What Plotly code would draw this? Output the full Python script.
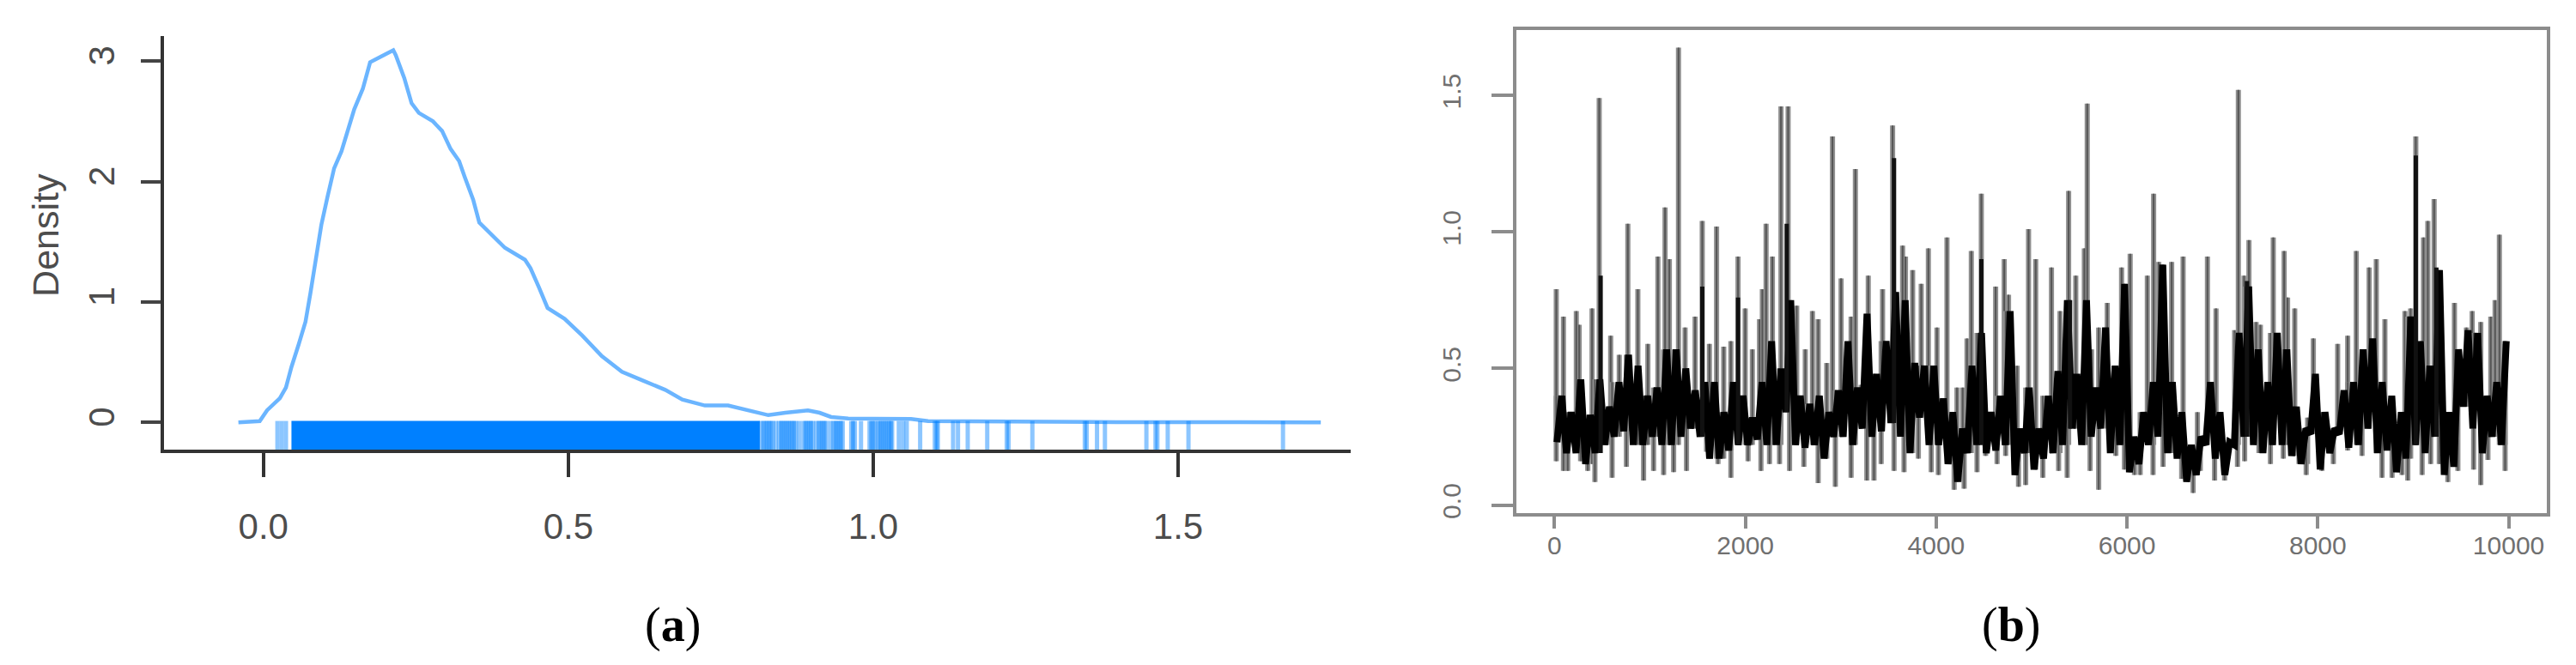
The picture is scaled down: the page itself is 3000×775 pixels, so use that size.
import plotly.graph_objects as go

# ---------------- panel (a): density + rug ----------------
dens_x = [-0.041, -0.006, 0.006, 0.027, 0.037, 0.046, 0.058, 0.069, 0.077, 0.086, 0.095, 0.105,
          0.116, 0.128, 0.138, 0.149, 0.163, 0.175, 0.194, 0.213, 0.217, 0.231, 0.243, 0.255,
          0.278, 0.293, 0.307, 0.321, 0.330, 0.344, 0.354, 0.372, 0.396, 0.429, 0.438, 0.452,
          0.466, 0.494, 0.523, 0.555, 0.588, 0.621, 0.659, 0.687, 0.724, 0.762, 0.800, 0.828,
          0.856, 0.893, 0.912, 0.931, 0.959, 1.062, 1.09, 1.2, 1.4, 1.6, 1.734]
dens_y = [0.0, 0.01, 0.10, 0.20, 0.29, 0.46, 0.65, 0.835, 1.07, 1.35, 1.64, 1.87,
          2.11, 2.25, 2.42, 2.60, 2.77, 2.99, 3.04, 3.09, 3.05, 2.86, 2.65, 2.57,
          2.50, 2.42, 2.27, 2.17, 2.04, 1.85, 1.66, 1.57, 1.45, 1.35, 1.28, 1.12,
          0.95, 0.86, 0.72, 0.55, 0.42, 0.35, 0.27, 0.19, 0.14, 0.14, 0.09, 0.06,
          0.08, 0.10, 0.08, 0.045, 0.033, 0.028, 0.01, 0.005, 0.002, 0.001, 0.0]

rug_dense_range = [0.046, 0.814]
rug_values = [0.023, 0.030, 0.037,
              0.816, 0.820, 0.823, 0.826, 0.829, 0.832, 0.835, 0.840,
              0.846, 0.849, 0.852, 0.855, 0.858, 0.861, 0.864, 0.867, 0.870, 0.873, 0.879,
              0.886, 0.889, 0.892, 0.895, 0.898, 0.901, 0.907,
              0.911, 0.914, 0.917, 0.920, 0.923, 0.930,
              0.935, 0.938, 0.941, 0.944, 0.947, 0.950,
              0.964, 0.967, 0.970, 0.980,
              0.994, 0.997, 1.000, 1.003, 1.008, 1.011, 1.014, 1.017,
              1.020, 1.023, 1.026, 1.029, 1.031,
              1.042, 1.049, 1.055, 1.077, 1.101, 1.104, 1.106, 1.131, 1.139, 1.155, 1.187,
              1.219, 1.222, 1.261, 1.347, 1.350, 1.367, 1.380, 1.448, 1.463, 1.466,
              1.483, 1.517, 1.672]

dens_xticks = [0.0, 0.5, 1.0, 1.5]
dens_xticklabels = ["0.0", "0.5", "1.0", "1.5"]
dens_yticks = [0, 1, 2, 3]
dens_yticklabels = ["0", "1", "2", "3"]

# ---------------- panel (b): trace plot ----------------
core_bin_start = list(range(0, 10000, 100))
core_low = [0.23, 0.19, 0.19, 0.15, 0.19, 0.22, 0.25, 0.27, 0.22, 0.22,
            0.25, 0.22, 0.22, 0.25, 0.28, 0.25, 0.17, 0.17, 0.20, 0.22,
            0.22, 0.24, 0.22, 0.22, 0.34, 0.22, 0.21, 0.22, 0.17, 0.25,
            0.25, 0.22, 0.28, 0.25, 0.27, 0.30, 0.25, 0.19, 0.32, 0.22,
            0.22, 0.15, 0.085, 0.19, 0.22, 0.19, 0.20, 0.22, 0.11, 0.19,
            0.13, 0.17, 0.19, 0.22, 0.28, 0.22, 0.25, 0.28, 0.19, 0.22,
            0.12, 0.15, 0.22, 0.25, 0.19, 0.17, 0.085, 0.11, 0.22, 0.17,
            0.11, 0.22, 0.25, 0.22, 0.19, 0.22, 0.22, 0.18, 0.15, 0.26,
            0.13, 0.19, 0.26, 0.21, 0.22, 0.28, 0.19, 0.20, 0.12, 0.17,
            0.22, 0.19, 0.25, 0.11, 0.14, 0.36, 0.28, 0.19, 0.25, 0.22]
core_high = [0.40, 0.34, 0.46, 0.33, 0.46, 0.36, 0.45, 0.55, 0.51, 0.40,
             0.43, 0.57, 0.57, 0.50, 0.42, 0.45, 0.45, 0.34, 0.45, 0.40,
             0.32, 0.45, 0.60, 0.50, 0.75, 0.40, 0.37, 0.40, 0.34, 0.42,
             0.60, 0.43, 0.70, 0.48, 0.60, 0.78, 0.75, 0.52, 0.51, 0.51,
             0.39, 0.34, 0.28, 0.51, 0.63, 0.34, 0.40, 0.71, 0.28, 0.43,
             0.28, 0.40, 0.49, 0.75, 0.48, 0.75, 0.43, 0.65, 0.51, 0.81,
             0.25, 0.34, 0.45, 0.88, 0.45, 0.34, 0.22, 0.25, 0.45, 0.34,
             0.23, 0.63, 0.80, 0.57, 0.45, 0.63, 0.57, 0.36, 0.28, 0.48,
             0.34, 0.28, 0.42, 0.45, 0.57, 0.61, 0.45, 0.40, 0.34, 0.69,
             0.60, 0.51, 0.86, 0.34, 0.57, 0.64, 0.63, 0.40, 0.45, 0.60]

spike_iter = [18, 93, 228, 258, 393, 468, 588, 678, 768, 873, 978, 1083, 1158, 1203, 1299,
              1368, 1473, 1548, 1623, 1698, 1773, 1848, 1923, 1998, 2073, 2148, 2178, 2217,
              2283, 2373, 2448, 2538, 2628, 2703, 2763, 2853, 2913, 3003, 3108, 3153, 3213,
              3288, 3438, 3543, 3648, 3678, 3753, 3843, 3918, 4008, 4113, 4218, 4278, 4323,
              4368, 4473, 4623, 4713, 4758, 4848, 4968, 5043, 5208, 5298, 5388, 5463, 5553,
              5583, 5628, 5793, 5943, 6033, 6213, 6279, 6333, 6468, 6588, 6738, 6843, 6933,
              7128, 7167, 7227, 7278, 7353, 7398, 7533, 7647, 7683, 7758, 7893, 7953, 8208,
              8313, 8403, 8538, 8613, 8703, 8913, 8973, 9027, 9108, 9153, 9219, 9288, 9432,
              9558, 9618, 9708, 9813, 9858, 9903, 9963]
spike_top = [0.79, 0.69, 0.71, 0.66, 0.72, 1.49, 0.62, 0.55, 1.03, 0.79, 0.59, 0.91, 1.09, 0.90, 1.675,
             0.65, 0.69, 1.04, 0.59, 1.02, 0.58, 0.60, 0.91, 0.72, 0.57, 0.68, 0.79, 1.03,
             0.91, 1.46, 1.46, 0.73, 0.57, 0.71, 0.68, 0.52, 1.35, 0.83, 0.69, 1.23, 0.44,
             0.84, 0.79, 1.39, 0.95, 0.91, 0.86, 0.81, 0.94, 0.65, 0.98, 0.43, 0.43, 0.61,
             0.93, 1.14, 0.80, 0.90, 0.77, 0.51, 1.01, 0.90, 0.87, 0.71, 1.15, 0.84, 0.94,
             1.47, 0.57, 0.74, 0.87, 0.92, 0.84, 1.14, 0.89, 0.89, 0.91, 0.34, 0.91, 0.72,
             0.64, 1.52, 0.84, 0.97, 0.67, 0.66, 0.98, 0.93, 0.76, 0.72, 0.32, 0.61, 0.59,
             0.62, 0.93, 0.87, 0.90, 0.68, 0.71, 0.72, 1.35, 0.98, 1.04, 1.12, 0.61, 0.74,
             0.65, 0.71, 0.67, 0.69, 0.75, 0.99, 0.59]

dip_iter = [18, 93, 138, 273, 348, 423, 603, 753, 933, 1038, 1143, 1248, 1383, 1593, 1713,
            1848, 2028, 2163, 2253, 2358, 2463, 2613, 2763, 2943, 3108, 3273, 3348, 3423,
            3558, 3663, 3813, 3948, 4023, 4188, 4293, 4428, 4518, 4638, 4728, 4863, 4938,
            5118, 5283, 5373, 5613, 5703, 5883, 5973, 6078, 6138, 6273, 6378, 6573, 6693,
            6768, 6918, 7023, 7158, 7233, 7383, 7503, 7638, 7803, 7878, 8043, 8163, 8313,
            8463, 8673, 8778, 8883, 8943, 9093, 9183, 9273, 9363, 9468, 9633, 9708, 9783, 9963]
dip_bottom = [0.16, 0.125, 0.125, 0.16, 0.125, 0.084, 0.10, 0.14, 0.09, 0.125, 0.11, 0.12, 0.125, 0.195, 0.15,
              0.10, 0.16, 0.125, 0.15, 0.15, 0.125, 0.14, 0.08, 0.067, 0.10, 0.09, 0.09, 0.15,
              0.125, 0.12, 0.17, 0.12, 0.11, 0.056, 0.06, 0.12, 0.18, 0.15, 0.18, 0.067, 0.073,
              0.10, 0.125, 0.10, 0.125, 0.056, 0.18, 0.13, 0.11, 0.11, 0.11, 0.14, 0.096, 0.044,
              0.125, 0.09, 0.09, 0.14, 0.16, 0.19, 0.15, 0.17, 0.15, 0.11, 0.125, 0.15, 0.20,
              0.18, 0.10, 0.10, 0.11, 0.09, 0.11, 0.15, 0.15, 0.084, 0.125, 0.13, 0.073, 0.165, 0.125]

black_iter = [483, 1548, 1923, 2433, 3558, 4473, 5403, 7257, 9027, 9243]
black_top = [0.84, 0.80, 0.76, 1.03, 1.27, 0.90, 0.75, 0.82, 1.28, 0.87]

trace_xticks = [0, 2000, 4000, 6000, 8000, 10000]
trace_xticklabels = ["0", "2000", "4000", "6000", "8000", "10000"]
trace_yticks = [0.0, 0.5, 1.0, 1.5]
trace_yticklabels = ["0.0", "0.5", "1.0", "1.5"]

panel_labels = ["(<b>a</b>)", "(<b>b</b>)"]

# ---------------- figure ----------------
W, H = 3000, 775
RUG_BOTTOM = -0.226
RUG_TOP = 0.012
BIN = 100

fig = go.Figure()

# rug: dense block + one semi-transparent line per sample (overlaps darken)
fig.add_shape(type="rect", xref="x", yref="y", x0=rug_dense_range[0], x1=rug_dense_range[1],
              y0=RUG_BOTTOM, y1=RUG_TOP, fillcolor="#0080FF", line_width=0, layer="above")
for v in rug_values:
    fig.add_shape(type="line", xref="x", yref="y", x0=v, x1=v, y0=RUG_BOTTOM, y1=RUG_TOP,
                  line=dict(color="rgba(0,128,255,0.45)", width=5), layer="above")

fig.add_trace(go.Scatter(x=dens_x, y=dens_y, mode="lines",
                         line=dict(color="rgba(0,128,255,0.58)", width=4.5),
                         xaxis="x", yaxis="y", showlegend=False))


def bin_of(it):
    return min(int(it // BIN), len(core_low) - 1)


sx, sy = [], []
for it, top in zip(spike_iter, spike_top):
    sx += [it, it, None]
    sy += [core_low[bin_of(it)], top, None]
dx, dy = [], []
for it, bot in zip(dip_iter, dip_bottom):
    dx += [it, it, None]
    dy += [core_high[bin_of(it)], bot, None]
for xs, ys in ((sx, sy), (dx, dy)):
    fig.add_trace(go.Scatter(x=xs, y=ys, mode="lines", line=dict(color="#8f8f8f", width=6),
                             xaxis="x2", yaxis="y2", showlegend=False, hoverinfo="skip"))
    fig.add_trace(go.Scatter(x=xs, y=ys, mode="lines", line=dict(color="#555555", width=2),
                             xaxis="x2", yaxis="y2", showlegend=False, hoverinfo="skip"))

cx, cy = [], []
for b0, lo, hi in zip(core_bin_start, core_low, core_high):
    cx += [b0 + BIN * 0.25, b0 + BIN * 0.75]
    cy += [lo, hi]
fig.add_trace(go.Scatter(x=cx, y=cy, mode="lines", line=dict(color="#000000", width=8),
                         xaxis="x2", yaxis="y2", showlegend=False, hoverinfo="skip"))
bx, by = [], []
for it, top in zip(black_iter, black_top):
    bx += [it, it, None]
    by += [core_low[bin_of(it)], top, None]
fig.add_trace(go.Scatter(x=bx, y=by, mode="lines", line=dict(color="#111111", width=5),
                         xaxis="x2", yaxis="y2", showlegend=False, hoverinfo="skip"))

left_font = dict(family="Liberation Sans, Arial, sans-serif", size=42, color="#4d4d4d")
right_font = dict(family="Liberation Sans Narrow, Liberation Sans, Arial, sans-serif", size=30, color="#707070")

fig.update_layout(
    width=W, height=H, margin=dict(l=0, r=0, t=0, b=0),
    paper_bgcolor="white", plot_bgcolor="white",
    xaxis=dict(domain=[183 / W, 1565 / W], range=[-0.163, 1.783], anchor="y",
               showgrid=False, zeroline=False, showline=True, linecolor="#333333", linewidth=4,
               ticks="outside", ticklen=28, tickwidth=4, tickcolor="#333333",
               tickvals=dens_xticks, ticktext=dens_xticklabels, tickfont=left_font,
               ticklabelstandoff=22),
    yaxis=dict(domain=[(H - 520) / H, (H - 34) / H], range=[RUG_BOTTOM, 3.21], anchor="x",
               showgrid=False, zeroline=False, showline=True, linecolor="#333333", linewidth=4,
               ticks="outside", ticklen=23, tickwidth=4, tickcolor="#444444",
               tickvals=dens_yticks, ticktext=dens_yticklabels, tickfont=left_font,
               tickangle=-90, ticklabelstandoff=14),
    xaxis2=dict(domain=[1758 / W, 2958 / W], range=[-400, 10400], anchor="y2",
                showgrid=False, zeroline=False, showline=True, mirror=True,
                linecolor="#8c8c8c", linewidth=4,
                ticks="outside", ticklen=14, tickwidth=4, tickcolor="#8c8c8c",
                tickvals=trace_xticks, ticktext=trace_xticklabels, tickfont=right_font,
                ticklabelstandoff=-6),
    yaxis2=dict(domain=[(H - 595) / H, (H - 27) / H], range=[-0.031, 1.74], anchor="x2",
                showgrid=False, zeroline=False, showline=True, mirror=True,
                linecolor="#8c8c8c", linewidth=4,
                ticks="outside", ticklen=25, tickwidth=4, tickcolor="#8c8c8c",
                tickvals=trace_yticks, ticktext=trace_yticklabels, tickfont=right_font,
                tickangle=-90, ticklabelstandoff=24),
)

fig.add_annotation(text="Density", x=45 / W, y=(H - 268) / H, xref="paper", yref="paper",
                   textangle=-90, showarrow=False, xanchor="center", yanchor="middle",
                   font=dict(family="Liberation Sans, Arial, sans-serif", size=43, color="#4d4d4d"))
for lab, px in zip(panel_labels, [775, 2334]):
    fig.add_annotation(text=lab, x=px / W, y=(H - 726) / H, xref="paper", yref="paper",
                       showarrow=False, xanchor="center", yanchor="middle",
                       font=dict(family="Liberation Serif, Times New Roman, serif", size=56, color="black"))

fig.write_html("out.html")
